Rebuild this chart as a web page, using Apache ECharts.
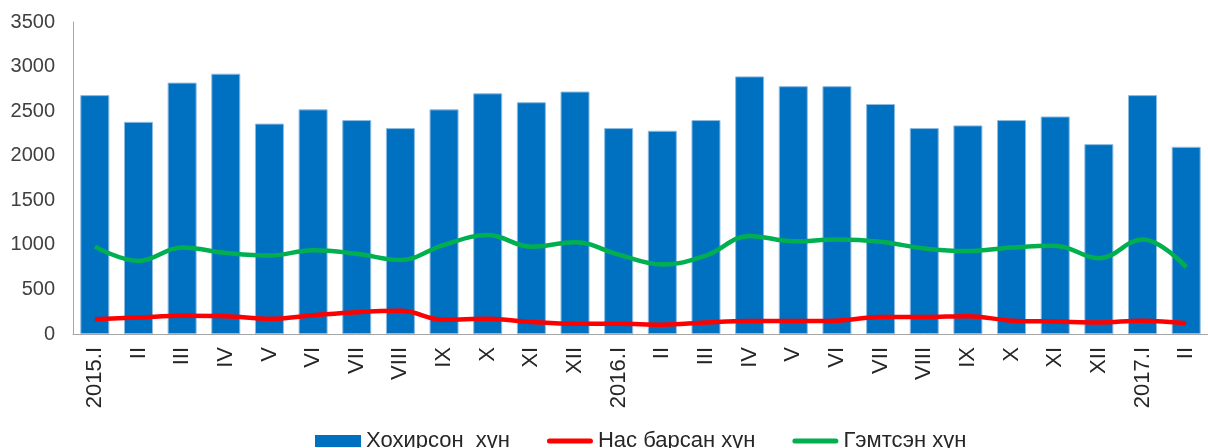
<!DOCTYPE html>
<html>
<head>
<meta charset="utf-8">
<script src="https://cdn.jsdelivr.net/npm/echarts@6/dist/echarts.min.js"></script>
<style>
  html, body { margin: 0; padding: 0; background: #fff; }
  #main { width: 1208px; height: 448px; }
</style>
</head>
<body>
<div id="main"></div>
<script>
  // ангилал (сар)
  var months = ['2015.I', 'II', 'III', 'IV', 'V', 'VI', 'VII', 'VIII', 'IX', 'X', 'XI', 'XII',
    '2016.I', 'II', 'III', 'IV', 'V', 'VI', 'VII', 'VIII', 'IX', 'X', 'XI', 'XII',
    '2017.I', 'II'];
  // Хохирсон хүн
  var victims = [2680, 2380, 2820, 2920, 2360, 2520, 2400, 2310, 2520, 2700, 2600, 2720,
    2310, 2280, 2400, 2890, 2780, 2780, 2580, 2310, 2340, 2400, 2440, 2130,
    2680, 2100];
  // Нас барсан хүн
  var deaths = [165, 185, 205, 200, 170, 210, 245, 260, 160, 170, 135, 115,
    115, 105, 130, 145, 145, 150, 190, 190, 200, 150, 140, 130,
    150, 120];
  // Гэмтсэн хүн
  var injured = [980, 820, 970, 910, 880, 940, 900, 830, 1000, 1110, 980, 1030,
    890, 780, 880, 1100, 1040, 1060, 1035, 960, 930, 970, 990, 850,
    1060, 750];

  var narrow = "'Liberation Sans Narrow', 'Arial Narrow', 'Liberation Sans', Arial, sans-serif";
  // легендийн шугамын дүрс (бөөрөнхий үзүүртэй зураас)
  var lineIcon = 'path://M2.5,0 L43.5,0 A2.5,2.5 0 0 1 43.5,5 L2.5,5 A2.5,2.5 0 0 1 2.5,0 Z';

  var myChart = echarts.init(document.getElementById('main'));
  myChart.setOption({
    animation: false,
    grid: {
      left: 73,
      right: -9,
      top: 22,
      bottom: 114
    },
    legend: {
      left: 310,
      top: 425,
      itemGap: 37,
      itemWidth: 46,
      itemHeight: 12,
      symbolKeepAspect: true,
      textStyle: { fontFamily: narrow, fontSize: 22, color: '#262626' },
      data: [
        { name: 'Хохирсон  хүн', icon: 'rect', itemStyle: { borderWidth: 0 } },
        { name: 'Нас барсан хүн', icon: lineIcon, itemStyle: { color: '#ff0000', borderWidth: 0 } },
        { name: 'Гэмтсэн хүн', icon: lineIcon, itemStyle: { color: '#00b050', borderWidth: 0 } }
      ]
    },
    xAxis: {
      type: 'category',
      data: months,
      axisLine: { lineStyle: { color: '#a6a6a6', width: 1 } },
      axisTick: { show: false },
      axisLabel: {
        rotate: 90,
        interval: 0,
        margin: 13,
        fontFamily: narrow,
        fontSize: 22,
        color: '#262626'
      }
    },
    yAxis: {
      type: 'value',
      min: 0,
      max: 3500,
      interval: 500,
      axisLine: { show: true, lineStyle: { color: '#a6a6a6', width: 1 } },
      axisTick: { show: false },
      splitLine: { show: false },
      axisLabel: {
        margin: 18,
        formatter: function (v) { return String(v); },
        fontFamily: "'Liberation Sans', Arial, sans-serif",
        fontSize: 20,
        color: '#404040'
      }
    },
    series: [
      {
        name: 'Хохирсон  хүн',
        type: 'bar',
        data: victims,
        barWidth: 29,
        itemStyle: { color: '#0070c0', borderColor: '#8dbbe2', borderWidth: 1 }
      },
      {
        name: 'Нас барсан хүн',
        type: 'line',
        data: deaths,
        smooth: 0.4,
        showSymbol: false,
        symbol: 'none',
        itemStyle: { color: '#ff0000' },
        lineStyle: { color: '#ff0000', width: 4.5 }
      },
      {
        name: 'Гэмтсэн хүн',
        type: 'line',
        data: injured,
        smooth: 0.4,
        showSymbol: false,
        symbol: 'none',
        itemStyle: { color: '#00b050' },
        lineStyle: { color: '#00b050', width: 4.5 }
      }
    ]
  });
  window.onresize = myChart.resize;
</script>
</body>
</html>
